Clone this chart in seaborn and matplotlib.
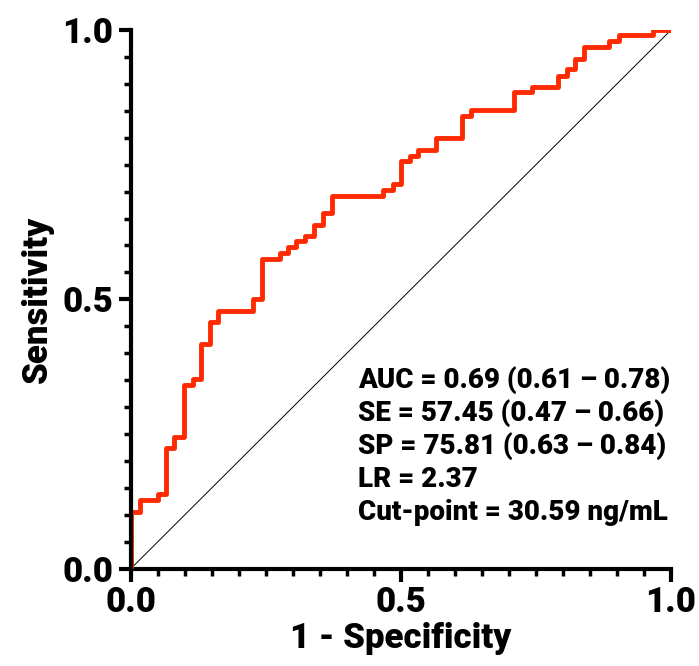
import matplotlib
matplotlib.use("Agg")
import matplotlib.pyplot as plt
import seaborn as sns
import pandas as pd
from matplotlib.ticker import MultipleLocator

sns.set_style("ticks")
plt.rcParams['font.family'] = ['Roboto', 'Liberation Sans', 'DejaVu Sans']
plt.rcParams['font.weight'] = 'black'
plt.rcParams['text.color'] = 'black'
plt.rcParams['axes.labelcolor'] = 'black'
plt.rcParams['xtick.color'] = 'black'
plt.rcParams['ytick.color'] = 'black'
plt.rcParams['axes.edgecolor'] = 'black'

fpr = [0, 0, 0.017, 0.05, 0.065, 0.081, 0.098, 0.115, 0.13, 0.146, 0.161, 0.226, 0.243,
       0.276, 0.291, 0.306, 0.322, 0.339, 0.356, 0.372, 0.467, 0.486, 0.5, 0.517, 0.532,
       0.565, 0.614, 0.629, 0.71, 0.742, 0.79, 0.807, 0.823, 0.839, 0.886, 0.903, 0.967, 1.0]
tpr = [0, 0.106, 0.127, 0.139, 0.224, 0.245, 0.341, 0.352, 0.417, 0.458, 0.479, 0.5, 0.575,
       0.586, 0.597, 0.608, 0.618, 0.638, 0.66, 0.692, 0.703, 0.714, 0.756, 0.767, 0.777,
       0.799, 0.841, 0.852, 0.884, 0.894, 0.915, 0.927, 0.947, 0.969, 0.98, 0.991, 1.0, 1.0]
ticks = [0.0, 0.5, 1.0]
tick_labels = ["0.0", "0.5", "1.0"]
annot = ["AUC = 0.69 (0.61 \u2013 0.78)", "SE = 57.45 (0.47 \u2013 0.66)",
         "SP = 75.81 (0.63 \u2013 0.84)", "LR = 2.37", "Cut-point = 30.59 ng/mL"]

df = pd.DataFrame({"fpr": fpr, "tpr": tpr})
fig = plt.figure(figsize=(6.99, 6.66), dpi=100)
ax = fig.add_axes([0.187, 0.146, 0.773, 0.809])
ax.plot([0, 1], [0, 1], color="black", lw=0.7)
sns.lineplot(data=df, x="fpr", y="tpr", sort=False, estimator=None, drawstyle="steps-post",
             color="#ff2a00", lw=3.5, ax=ax, zorder=3)
ax.set_xlim(0, 1); ax.set_ylim(0, 1)
ax.set_xticks(ticks, tick_labels); ax.set_yticks(ticks, tick_labels)
ax.xaxis.set_minor_locator(MultipleLocator(0.05)); ax.yaxis.set_minor_locator(MultipleLocator(0.05))
ax.tick_params(which="major", length=9, width=3, labelsize=25)
ax.tick_params(which="minor", length=5, width=2.5)
for s in ["left", "bottom"]:
    ax.spines[s].set_linewidth(3)
sns.despine(ax=ax)
ax.spines['left'].set_zorder(5)
ax.set_xlabel("1 - Specificity", fontsize=25, fontweight="black", labelpad=2)
ax.set_ylabel("Sensitivity", fontsize=25, fontweight="black", labelpad=6)
for i, t in enumerate(annot):
    ax.text(0.42, 0.351 - i * 0.0615, t, fontsize=20, transform=ax.transAxes, va="center")
fig.savefig("out.png", dpi=100)
